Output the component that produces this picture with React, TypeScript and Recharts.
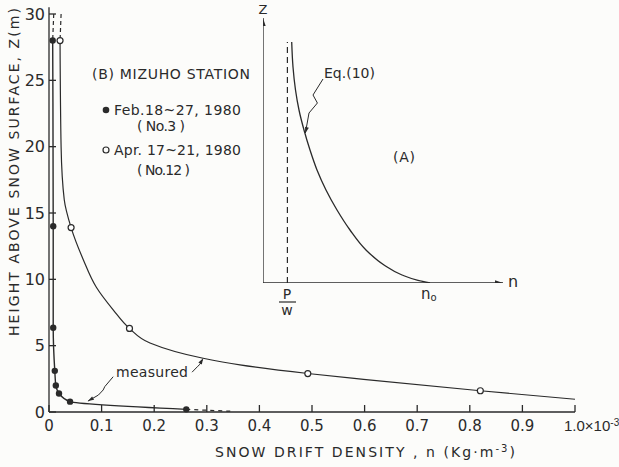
import React from "react";
import { ComposedChart, Line, Scatter, XAxis, YAxis, ReferenceLine, ReferenceDot } from "recharts";

const INK = "#2a2a2a";
const FONT = "'DejaVu Sans', Verdana, sans-serif";
const NARROW = "'Liberation Sans Narrow', 'Liberation Sans', sans-serif";

// axes (n in 10^-3 Kg m^-3, Z in m)
const densityTicks = [0, 0.1, 0.2, 0.3, 0.4, 0.5, 0.6, 0.7, 0.8, 0.9, 1.0];
const heightTicks = [0, 5, 10, 15, 20, 25, 30];

// (B) Feb. 18~27, 1980 (No.3) - filled circles, line passes through them
const febMeasured = [
  { x: 0.007, z: 28 },
  { x: 0.008, z: 14 },
  { x: 0.008, z: 6.35 },
  { x: 0.011, z: 3.1 },
  { x: 0.013, z: 2.0 },
  { x: 0.019, z: 1.4 },
  { x: 0.04, z: 0.78 },
  { x: 0.261, z: 0.2 },
];
const febTop = [
  { x: 0.009, z: 30 },
  { x: 0.007, z: 28 },
];
const febTail = [
  { x: 0.261, z: 0.2 },
  { x: 0.35, z: 0.05 },
];

// (B) Apr. 17~21, 1980 (No.12) - open circles and the fitted curve
const aprMeasured = [
  { x: 0.021, z: 28 },
  { x: 0.042, z: 13.9 },
  { x: 0.153, z: 6.3 },
  { x: 0.492, z: 2.9 },
  { x: 0.82, z: 1.6 },
];
const aprCurve = [
  { x: 0.021, z: 28 },
  { x: 0.023, z: 20 },
  { x: 0.029, z: 16 },
  { x: 0.042, z: 13.9 },
  { x: 0.065, z: 11.5 },
  { x: 0.09, z: 9.4 },
  { x: 0.122, z: 7.7 },
  { x: 0.153, z: 6.3 },
  { x: 0.192, z: 5.2 },
  { x: 0.293, z: 4.05 },
  { x: 0.363, z: 3.55 },
  { x: 0.492, z: 2.9 },
  { x: 0.598, z: 2.46 },
  { x: 0.82, z: 1.6 },
  { x: 1.0, z: 0.96 },
];
const aprTop = [
  { x: 0.023, z: 30 },
  { x: 0.021, z: 28 },
];

// "measured" leader lines
const leaderLeft = [
  { x: 0.122, z: 2.66 },
  { x: 0.106, z: 1.91 },
  { x: 0.103, z: 1.66 },
  { x: 0.094, z: 1.28 },
  { x: 0.074, z: 0.82 },
];
const leaderRight = [
  { x: 0.272, z: 3.0 },
  { x: 0.283, z: 3.45 },
  { x: 0.287, z: 3.6 },
  { x: 0.292, z: 3.95 },
];

// (A) schematic of Eq.(10), arbitrary units
const insetCurve = [
  { n: 1.435, z: 12.05 },
  { n: 1.5, z: 10.8 },
  { n: 1.625, z: 9.65 },
  { n: 1.8, z: 8.65 },
  { n: 2.05, z: 7.65 },
  { n: 2.35, z: 6.65 },
  { n: 2.7, z: 5.65 },
  { n: 3.15, z: 4.65 },
  { n: 3.7, z: 3.65 },
  { n: 4.35, z: 2.65 },
  { n: 5.15, z: 1.65 },
  { n: 6.05, z: 0.9 },
  { n: 6.95, z: 0.4 },
  { n: 7.75, z: 0.13 },
  { n: 8.35, z: 0.0 },
];
const insetPw = [
  { n: 1.22, z: 0 },
  { n: 1.22, z: 12.05 },
];
const insetLeader = [
  { n: 3.0, z: 10.2 },
  { n: 2.5, z: 9.4 },
  { n: 2.72, z: 9.0 },
  { n: 2.3, z: 8.5 },
  { n: 2.12, z: 7.5 },
];

const X_MARGIN = 8;
const Y_MARGIN = 4;
const TICK_LEN = 7;

const arrow = (angle: number, len = 7) => (props: any) => (
  <polygon
    points={`0,0 ${-len},${-len / 3} ${-len},${len / 3}`}
    transform={`translate(${props.cx},${props.cy}) rotate(${angle})`}
    fill={INK}
  />
);

// tick label + inward tick mark
const XTick = (props: any) => {
  const { x, y, payload } = props;
  const v = payload.value;
  const axisY = y - X_MARGIN;
  return (
    <g>
      <line x1={x} x2={x} y1={axisY} y2={axisY - TICK_LEN} stroke={INK} strokeWidth={1.3} />
      {v === 1 ? (
        <text x={x - 11} y={y} dy="0.71em" fontSize={15} fontFamily={NARROW} fill={INK}>
          1.0×10
          <tspan dy={-5} fontSize={10}>-3</tspan>
        </text>
      ) : (
        <text x={x} y={y} dy="0.71em" textAnchor="middle" fontSize={15} fontFamily={FONT} fill={INK}>
          {v === 0 ? "0" : v.toFixed(1)}
        </text>
      )}
    </g>
  );
};

const YTick = (props: any) => {
  const { x, y, payload } = props;
  const axisX = x + Y_MARGIN;
  return (
    <g>
      <line x1={axisX} x2={axisX + TICK_LEN} y1={y} y2={y} stroke={INK} strokeWidth={1.3} />
      <text x={x} y={y} dy="0.36em" textAnchor="end" fontSize={16} fontFamily={FONT} fill={INK}>
        {payload.value}
      </text>
    </g>
  );
};

const dotFilled = (p: any) => <circle cx={p.cx} cy={p.cy} r={3.2} fill={INK} />;
const dotOpen = (p: any) => <circle cx={p.cx} cy={p.cy} r={3} fill="#fff" stroke={INK} strokeWidth={1.2} />;

export default function App() {
  const txt = { fontFamily: FONT, fill: INK } as const;
  return (
    <div style={{ position: "absolute", left: 0, top: 0, width: 619, height: 467, background: "#fcfcfa" }}>
      <div style={{ position: "absolute", left: 0, top: 0 }}>
        <ComposedChart width={619} height={467} margin={{ top: 14, right: 44, bottom: 0, left: 0 }}>
          <XAxis
            type="number"
            dataKey="x"
            domain={[0, 1]}
            ticks={densityTicks}
            interval={0}
            height={55}
            tickSize={0}
            tickMargin={X_MARGIN}
            axisLine={{ stroke: INK, strokeWidth: 1.3 }}
            tickLine={false}
            tick={<XTick />}
          />
          <YAxis
            type="number"
            dataKey="z"
            domain={[0, 30]}
            ticks={heightTicks}
            interval={0}
            width={49}
            tickSize={0}
            tickMargin={Y_MARGIN}
            axisLine={{ stroke: INK, strokeWidth: 1.3 }}
            tickLine={false}
            tick={<YTick />}
          />
          <ReferenceLine segment={[{ x: 0, y: 30 }, { x: 0, y: 30.5 }]} stroke={INK} strokeWidth={1.3} ifOverflow="visible" />
          <Line data={febMeasured} dataKey="z" type="monotoneY" stroke={INK} strokeWidth={1.4} dot={false} isAnimationActive={false} />
          <Line data={febTop} dataKey="z" type="linear" stroke={INK} strokeWidth={1.2} strokeDasharray="4 3" dot={false} isAnimationActive={false} />
          <Line data={febTail} dataKey="z" type="linear" stroke={INK} strokeWidth={1.2} strokeDasharray="4 4" dot={false} isAnimationActive={false} />
          <Line data={aprCurve} dataKey="z" type="monotoneY" stroke={INK} strokeWidth={1.2} dot={false} isAnimationActive={false} />
          <Line data={aprTop} dataKey="z" type="linear" stroke={INK} strokeWidth={1.2} strokeDasharray="4 3" dot={false} isAnimationActive={false} />
          <Line data={leaderLeft} dataKey="z" type="linear" stroke={INK} strokeWidth={1} dot={false} isAnimationActive={false} />
          <Line data={leaderRight} dataKey="z" type="linear" stroke={INK} strokeWidth={1} dot={false} isAnimationActive={false} />
          <ReferenceDot x={0.074} y={0.82} r={0} ifOverflow="visible" shape={arrow(150, 6)} />
          <ReferenceDot x={0.293} y={4.05} r={0} ifOverflow="visible" shape={arrow(-60, 6)} />
          <Scatter data={febMeasured} shape={dotFilled} isAnimationActive={false} />
          <Scatter data={aprMeasured} shape={dotOpen} isAnimationActive={false} />
        </ComposedChart>
      </div>

      <div style={{ position: "absolute", left: 263, top: 13 }}>
        <ComposedChart width={240} height={270} margin={{ top: 0, right: 0, bottom: 0, left: 0 }}>
          <XAxis type="number" dataKey="n" domain={[0, 12]} hide />
          <YAxis type="number" dataKey="z" domain={[0, 13.5]} hide />
          <ReferenceLine segment={[{ x: 0, y: 0 }, { x: 12, y: 0 }]} stroke={INK} strokeWidth={1.3} ifOverflow="visible" />
          <ReferenceLine segment={[{ x: 0, y: 0 }, { x: 0, y: 13.25 }]} stroke={INK} strokeWidth={1.3} ifOverflow="visible" />
          <ReferenceDot x={12} y={0} r={0} ifOverflow="visible" shape={arrow(0, 8)} />
          <ReferenceDot x={0} y={13.25} r={0} ifOverflow="visible" shape={arrow(-90, 8)} />
          <Line data={insetPw} dataKey="z" type="linear" stroke={INK} strokeWidth={1.2} strokeDasharray="6 4" dot={false} isAnimationActive={false} />
          <Line data={insetCurve} dataKey="z" type="monotoneY" stroke={INK} strokeWidth={1.3} dot={false} isAnimationActive={false} />
          <Line data={insetLeader} dataKey="z" type="linear" stroke={INK} strokeWidth={1} dot={false} isAnimationActive={false} />
          <ReferenceDot x={2.12} y={7.5} r={0} ifOverflow="visible" shape={arrow(105, 6)} />
        </ComposedChart>
      </div>

      <svg width={619} height={467} style={{ position: "absolute", left: 0, top: 0, pointerEvents: "none" }}>
        {/* axis titles */}
        <text {...txt} fontSize={14} textAnchor="middle" transform="translate(19,172) rotate(-90)" textLength={328} lengthAdjust="spacing">
          HEIGHT ABOVE SNOW SURFACE, Z(m)
        </text>
        <text {...txt} x={215} y={457} fontSize={14} textLength={300} lengthAdjust="spacing">
          SNOW DRIFT DENSITY , n (Kg·m<tspan dy={-5} fontSize={10}>-3</tspan><tspan dy={5}>)</tspan>
        </text>

        {/* legend (B) */}
        <text {...txt} x={92} y={79} fontSize={14} textLength={158} lengthAdjust="spacing">(B) MIZUHO STATION</text>
        <circle cx={106} cy={110} r={3.3} fill={INK} />
        <text {...txt} x={114} y={115} fontSize={14} textLength={127} lengthAdjust="spacing">Feb.18~27, 1980</text>
        <text {...txt} x={137} y={131} fontSize={14} textLength={48} lengthAdjust="spacing">( No.3 )</text>
        <circle cx={106} cy={150} r={3} fill="none" stroke={INK} strokeWidth={1.2} />
        <text {...txt} x={114} y={155} fontSize={14} textLength={127} lengthAdjust="spacing">Apr. 17~21, 1980</text>
        <text {...txt} x={137} y={175} fontSize={14} textLength={53} lengthAdjust="spacing">( No.12 )</text>

        <text {...txt} x={116} y={377} fontSize={14} textLength={72} lengthAdjust="spacing">measured</text>

        {/* inset (A) labels */}
        <text {...txt} x={263} y={14} fontSize={13} textAnchor="middle">Z</text>
        <text {...txt} x={508} y={287} fontSize={16}>n</text>
        <text {...txt} x={287} y={299} fontSize={14} textAnchor="middle">P</text>
        <line x1={279} x2={296} y1={302} y2={302} stroke={INK} strokeWidth={1.2} />
        <text {...txt} x={287} y={315} fontSize={14} textAnchor="middle">w</text>
        <text {...txt} x={421} y={299} fontSize={15}>n<tspan dy={2} fontSize={10}>o</tspan></text>
        <text {...txt} x={324} y={78} fontSize={14} textLength={51} lengthAdjust="spacing">Eq.(10)</text>
        <text {...txt} x={393} y={162} fontSize={14} textLength={22} lengthAdjust="spacing">(A)</text>
      </svg>
    </div>
  );
}
